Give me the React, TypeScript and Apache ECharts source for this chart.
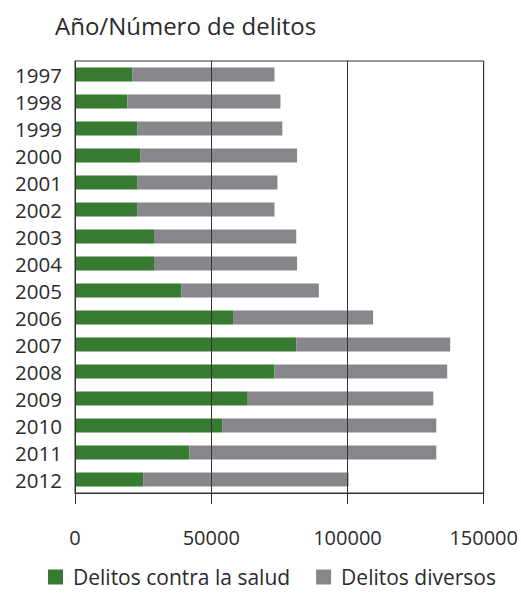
import React, { useEffect, useRef } from "react";
import * as echarts from "echarts";

// Años (eje vertical, de arriba a abajo)
const years = [
  "1997", "1998", "1999", "2000", "2001", "2002", "2003", "2004",
  "2005", "2006", "2007", "2008", "2009", "2010", "2011", "2012",
];

// Delitos contra la salud
const delitosSalud = [
  21000, 19200, 22800, 23900, 22800, 22800, 29000, 29000,
  39100, 58000, 81200, 73200, 63400, 54000, 42000, 25000,
];

// Delitos diversos (se apilan tras los de salud)
const delitosDiversos = [
  52200, 56200, 53300, 57600, 51500, 50400, 52200, 52500,
  50400, 51400, 56500, 63400, 68100, 78600, 90600, 75400,
];

const xTicks = [0, 50000, 100000, 150000];

const FONT = "'Open Sans', 'Noto Sans', sans-serif";
const INK = "#2b2b2b";

export default function App() {
  const ref = useRef<HTMLDivElement>(null);

  useEffect(() => {
    if (!ref.current) return;
    const chart = echarts.init(ref.current, undefined, { renderer: "svg" });
    chart.setOption({
      animation: false,
      backgroundColor: "#ffffff",
      title: {
        text: "Año/Número de delitos",
        left: 50,
        top: 8,
        textStyle: { fontFamily: FONT, fontSize: 24, fontWeight: "normal", color: INK },
      },
      grid: {
        left: 75,
        right: 32,
        top: 61,
        bottom: 100,
        show: true,
        borderColor: "#333",
        borderWidth: 1,
        backgroundColor: "transparent",
      },
      legend: {
        left: 48,
        top: 566,
        padding: 0,
        icon: "rect",
        itemWidth: 15,
        itemHeight: 15,
        itemGap: 26,
        textStyle: {
          fontFamily: FONT,
          fontSize: 21,
          lineHeight: 22,
          color: INK,
          padding: [0, 0, 0, 5],
        },
        data: ["Delitos contra la salud", "Delitos diversos"],
      },
      xAxis: {
        type: "value",
        min: xTicks[0],
        max: xTicks[xTicks.length - 1],
        interval: 50000,
        z: 3,
        axisLine: { show: true, lineStyle: { color: "#333", width: 1 } },
        axisTick: { show: true, length: 11, lineStyle: { color: "#333", width: 1 } },
        splitLine: { show: true, lineStyle: { color: "#333", width: 1 } },
        axisLabel: {
          margin: 34,
          fontFamily: FONT,
          fontSize: 20,
          color: INK,
          formatter: (v: number) => String(v),
        },
      },
      yAxis: {
        type: "category",
        inverse: true,
        data: years,
        axisLine: { show: true, lineStyle: { color: "#333", width: 1 } },
        axisTick: { show: false },
        axisLabel: {
          interval: 0,
          align: "left",
          margin: 60,
          fontFamily: FONT,
          fontSize: 20.5,
          color: INK,
        },
      },
      series: [
        {
          name: "Delitos contra la salud",
          type: "bar",
          stack: "total",
          barWidth: 14,
          itemStyle: { color: "#367b2f" },
          data: delitosSalud,
        },
        {
          name: "Delitos diversos",
          type: "bar",
          stack: "total",
          barWidth: 14,
          itemStyle: { color: "#87878b" },
          data: delitosDiversos,
        },
      ],
    });
    return () => chart.dispose();
  }, []);

  return (
    <div
      ref={ref}
      style={{ position: "fixed", left: 0, top: 0, width: 521, height: 593 }}
    />
  );
}
